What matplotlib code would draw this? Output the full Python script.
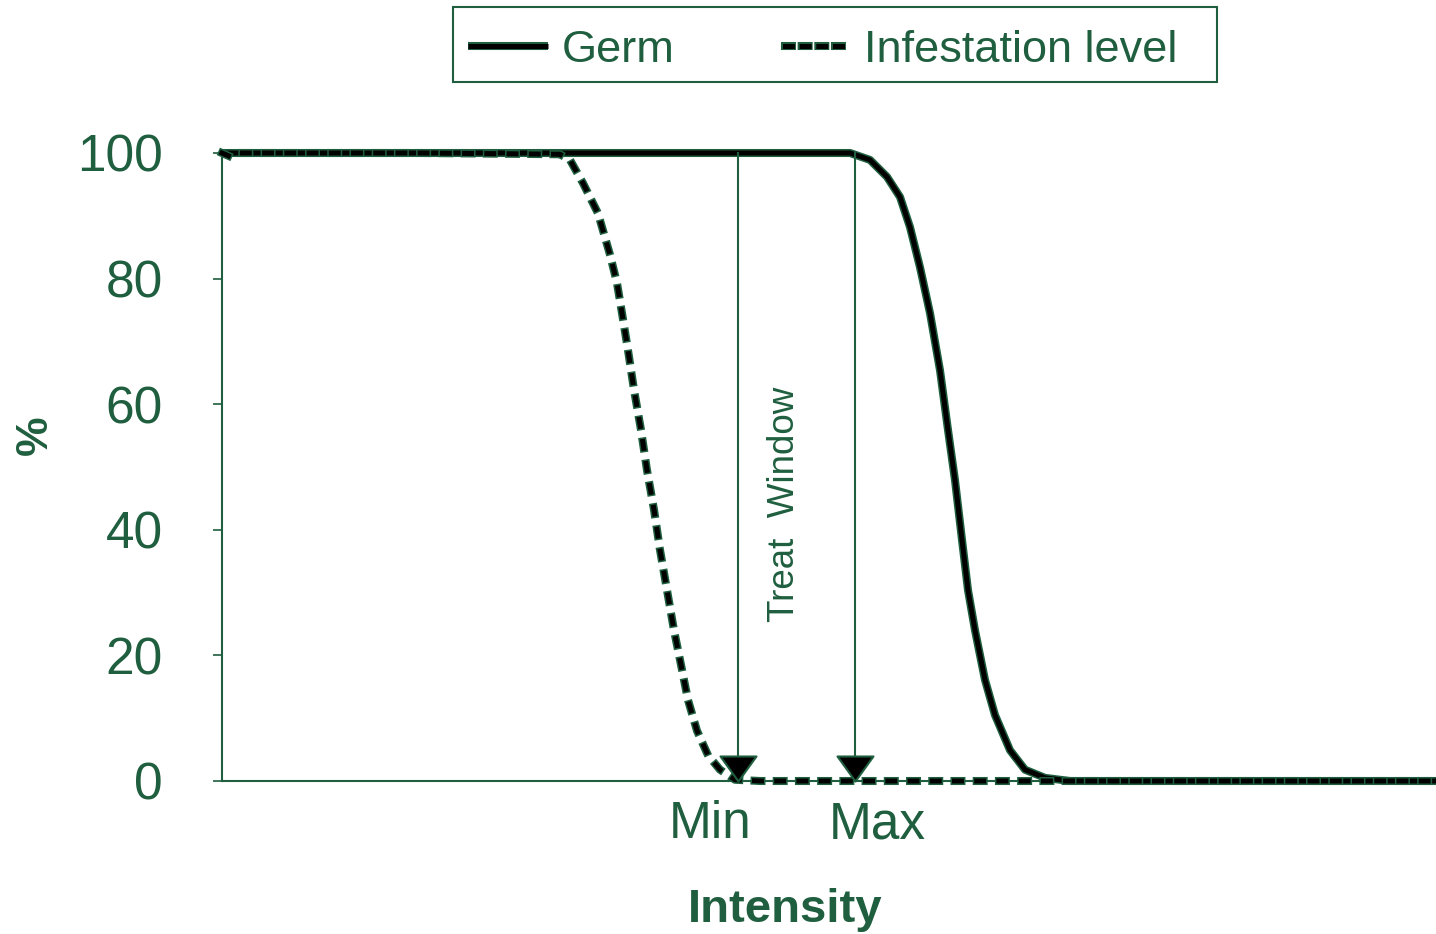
import matplotlib
matplotlib.use("Agg")
import matplotlib.pyplot as plt
import matplotlib.patheffects as pe
from matplotlib.lines import Line2D
from matplotlib.patches import Rectangle
from matplotlib.path import Path

plt.rcParams['font.family'] = ['Liberation Sans', 'DejaVu Sans']
plt.rcParams['lines.scale_dashes'] = False

GREEN = '#1F5F3F'

# ---- data (intensity units, percent) ----
germ_x = [0, 62.8, 64.8, 66.5, 67.8, 68.8, 69.8, 70.8, 71.8, 72.6, 73.3, 74.0,
          74.6, 75.3, 76.3, 77.3, 78.8, 80.3, 82.3, 84.8, 121.4]
germ_y = [100, 100, 98.9, 96.2, 93.0, 88.2, 81.8, 74.5, 65.4, 55.9, 47.9, 38.4,
          30.4, 24.0, 16.1, 10.5, 4.9, 1.8, 0.5, 0, 0]

inf_x = [0, 1.0, 2.0, 20, 33.8, 34.8, 36.1, 37.6, 38.8, 39.5, 40.0, 40.6, 41.2,
         41.9, 42.5, 43.2, 43.8, 44.5, 45.2, 45.9, 46.6, 47.5, 48.6, 49.8, 51.3,
         53.8, 121.4]
inf_y = [100, 99.3, 100, 100, 99.8, 98.9, 95.2, 90.4, 83.8, 79.3, 74.5, 68.6, 62.3,
         55.9, 49.5, 43.2, 36.8, 30.4, 24.0, 18.5, 12.9, 8.0, 4.1, 1.8, 0.2,
         0, 0]

window_x = [51.6, 63.3]          # Min, Max arrows
window_labels = ['Min', 'Max']
window_label_x = [48.8, 65.5]

y_ticks = [0, 20, 40, 60, 80, 100]
series_names = ['Germ', 'Infestation level']

fig = plt.figure(figsize=(14.36, 9.34), dpi=100)
ax = fig.add_axes([222/1436, 1-781/934, 1-222/1436, (781-153)/934])
ax.set_xlim(0, 121.4)
ax.set_ylim(0, 100)

core = 3.6
edge = 5.8
DASH = (5.0, 11.0)
germ_line, = ax.plot(germ_x, germ_y, color='black', lw=core, clip_on=False,
                     solid_capstyle='butt', zorder=3,
                     path_effects=[pe.Stroke(linewidth=edge, foreground=GREEN),
                                   pe.Normal()])
inf_line, = ax.plot(inf_x, inf_y, color='black', lw=core, clip_on=False,
                    dash_capstyle='projecting', zorder=4,
                    path_effects=[pe.Stroke(linewidth=edge, foreground=GREEN),
                                  pe.Normal()])
inf_line.set_dashes(DASH)

# arrows of treatment window
tri = Path([(-1, 1.39), (1, 1.39), (0, 0), (-1, 1.39)],
           [Path.MOVETO, Path.LINETO, Path.LINETO, Path.CLOSEPOLY])
for xv in window_x:
    ax.plot([xv, xv], [100, 3], color=GREEN, lw=1.5, zorder=5, clip_on=False)
    ax.plot([xv], [0], marker=tri, ms=36, mfc='black', mec=GREEN, mew=1.5,
            zorder=6, clip_on=False, ls='none')

for xl, lab in zip(window_label_x, window_labels):
    ax.text(xl, -7, lab, ha='center', va='center', fontsize=37, color=GREEN,
            clip_on=False)

ax.text(56.3, 44, 'Treat  Window', rotation=90, ha='center', va='center',
        fontsize=26.5, color=GREEN)

# axes styling
for s in ['top', 'right']:
    ax.spines[s].set_visible(False)
for s in ['left', 'bottom']:
    ax.spines[s].set_color(GREEN)
    ax.spines[s].set_linewidth(1.5)
ax.set_xticks([])
ax.set_yticks(y_ticks)
ax.set_yticklabels([str(v) for v in y_ticks])
ax.tick_params(axis='y', direction='out', length=6.5, width=1.2, color=GREEN,
               labelcolor=GREEN, labelsize=37, pad=36)

fig.text(785/1436, 1-910/934, 'Intensity', ha='center', va='center',
         fontsize=34, fontweight='bold', color=GREEN)
fig.text(35/1436, 1-435/934, '%', ha='center', va='center', rotation=90,
         fontsize=32, fontweight='bold', color=GREEN)

# legend (one entry per legend so each handle can have its own length)
h1 = Line2D([], [], color='black', lw=core, solid_capstyle='butt',
            path_effects=[pe.Stroke(linewidth=edge, foreground=GREEN), pe.Normal()])
h2 = Line2D([], [], color='black', lw=core, dash_capstyle='projecting',
            path_effects=[pe.Stroke(linewidth=edge, foreground=GREEN), pe.Normal()])
h2.set_dashes((5.0, 7.0))
for h, name, x0, hl in [(h1, series_names[0], 468, 1.77),
                        (h2, series_names[1], 785, 1.44)]:
    leg = fig.legend([h], [name], loc='center left',
                     bbox_to_anchor=(x0/1436, 1-50/934), fontsize=32.5,
                     frameon=False, handlelength=hl, handletextpad=0.31,
                     borderpad=0, borderaxespad=0)
    for t in leg.get_texts():
        t.set_color(GREEN)
fig.patches.append(Rectangle((453/1436, 1-82/934), (1217-453)/1436, 75/934,
                             transform=fig.transFigure, fill=False,
                             edgecolor=GREEN, lw=1.5))

fig.savefig('out.png', dpi=100)
